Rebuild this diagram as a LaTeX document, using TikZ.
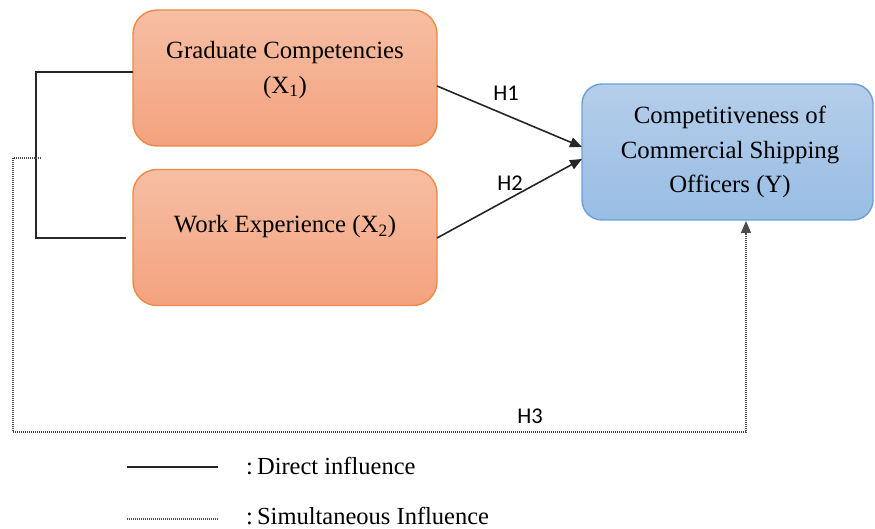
\documentclass[tikz,border=0pt]{standalone}
\usepackage{fontspec}
\setmainfont{Liberation Serif}
\newfontfamily\hfont{Carlito}
\usetikzlibrary{arrows.meta}
\definecolor{orTop}{HTML}{F6BEA3}
\definecolor{orBot}{HTML}{F4A27E}
\definecolor{orLine}{HTML}{EE8A45}
\definecolor{blTop}{HTML}{B5CEEA}
\definecolor{blBot}{HTML}{98BDE4}
\definecolor{blLine}{HTML}{6C9FD6}
\definecolor{lnk}{HTML}{262626}
\tikzset{
  obox/.style={draw=orLine, line width=1.4pt, rounded corners=24pt, top color=orTop, bottom color=orBot, minimum width=304pt, minimum height=136pt, inner sep=0pt},
  bbox/.style={draw=blLine, line width=1.4pt, rounded corners=20pt, top color=blTop, bottom color=blBot, minimum width=291pt, minimum height=136pt, inner sep=0pt},
  txt/.style={align=center, font=\fontsize{24.8}{34.5}\selectfont, text=black, inner sep=0pt},
  hlab/.style={font=\hfont\fontsize{22.5}{24}\selectfont, inner sep=0pt},
  solidln/.style={draw=lnk, line width=1.6pt},
  dotln/.style={draw=black!70, line width=1.3pt, dash pattern=on 1pt off 1pt},
  arr/.style={-{Triangle[length=12pt,width=10pt]}},
  legtxt/.style={font=\fontsize{24.5}{26}\selectfont, anchor=west, inner sep=0pt}
}
\begin{document}
\begin{tikzpicture}[x=1pt,y=-1pt]
\useasboundingbox (0,0) rectangle (875,529);
% boxes
\node[obox] (gc) at (285,78) {};
\node[txt] (gct) at (285,70) {Graduate Competencies\\(X\textsubscript{1})};
\node[obox] (we) at (285,237.5) {};
\node[txt] (wet) at (285,227) {Work Experience (X\textsubscript{2})};
\node[bbox] (y) at (727.5,152) {};
\node[txt] (yt) at (730,152) {Competitiveness of\\Commercial Shipping\\Officers (Y)};
% bracket
\coordinate (b1) at (133,72);
\coordinate (b2) at (36,72);
\coordinate (b3) at (36,238);
\coordinate (b4) at (126,238);
\draw[solidln] (b1) -- (b2) -- (b3) -- (b4);
% dotted H3
\coordinate (d0) at (41,158);
\coordinate (d1) at (13,158);
\coordinate (d2) at (13,432);
\coordinate (d3) at (746,432);
\coordinate (d4) at (746,221);
\draw[dotln, arr] (d0) -- (d1) -- (d2) -- (d3) -- (d4);
% H1, H2
\coordinate (h1s) at (437,86);
\coordinate (h1e) at (582,147);
\coordinate (h2s) at (437,238);
\coordinate (h2e) at (582,159);
\draw[solidln, arr] (h1s) -- (h1e);
\draw[solidln, arr] (h2s) -- (h2e);
\node[hlab] (l1) at (506,93) {H1};
\node[hlab] (l2) at (510,183) {H2};
\node[hlab] (l3) at (530,416) {H3};
% legend
\coordinate (s1) at (127,467);
\coordinate (s2) at (218,467);
\coordinate (t1) at (127,519);
\coordinate (t2) at (218,519);
\draw[solidln] (s1) -- (s2);
\draw[dotln] (t1) -- (t2);
\node[legtxt] (lg1) at (246,466) {:\,Direct influence};
\node[legtxt] (lg2) at (246,516) {:\,Simultaneous Influence};
\end{tikzpicture}
\end{document}
